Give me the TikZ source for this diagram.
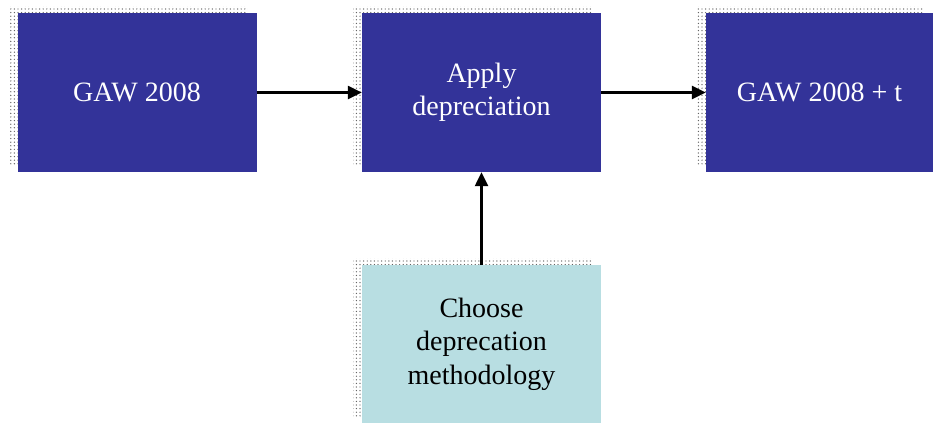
\documentclass[tikz,border=0pt]{standalone}
\usepackage{fontspec}
\setmainfont{Liberation Serif}
\usepackage{xcolor}
\usepackage{tikz}
\usetikzlibrary{arrows.meta,positioning,shadows,patterns.meta}
\definecolor{db}{RGB}{51,51,153}
\definecolor{lb}{RGB}{184,222,226}
\definecolor{sh}{RGB}{100,100,100}

\tikzset{
  box/.style={rectangle,minimum width=239pt,minimum height=159pt,inner sep=0pt,
    align=center,font=\fontsize{28}{33.5}\selectfont,
    general shadow={shadow xshift=-9pt,shadow yshift=7pt,
      pattern={Dots[distance=3.6pt,radius=0.7pt]},pattern color=sh}},
  darkbox/.style={box,fill=db,text=white},
  lightbox/.style={box,fill=lb,text=black},
  flow/.style={-{Triangle[length=14pt,width=13pt]},line width=2.4pt,black}
}

\begin{document}
\begin{tikzpicture}[x=1pt,y=-1pt]
  % page frame
  \useasboundingbox (0,0) rectangle (933,423);

  % top row
  \node[darkbox] (gaw) at (137,92.5) {GAW 2008};
  \node[darkbox] (apply) at (481.5,92.5) {Apply\\depreciation};
  \node[darkbox,minimum width=227pt] (gawt) at (819.5,92.5) {GAW 2008 + t};

  % bottom box
  \node[lightbox,minimum height=158pt] (choose) at (481.5,344) {Choose\\deprecation\\methodology};

  % arrows
  \draw[flow] (gaw.east) -- (apply.west);
  \draw[flow] (apply.east) -- (gawt.west);
  \draw[flow] (choose.north) -- (apply.south);
\end{tikzpicture}
\end{document}
